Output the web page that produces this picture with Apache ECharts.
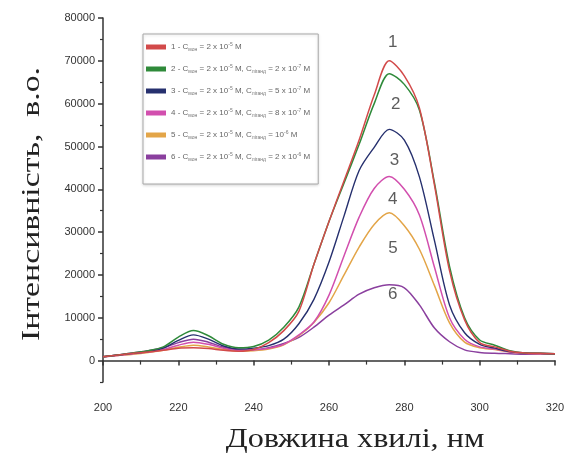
<!DOCTYPE html>
<html>
<head>
<meta charset="utf-8">
<script src="https://cdn.jsdelivr.net/npm/echarts@6/dist/echarts.min.js"></script>
<style>html,body{margin:0;padding:0;background:#fff}#c{width:568px;height:467px}</style>
</head>
<body>
<div id="c"></div>
<script>
const wavelengths = [200,204,208,212,216,220,224,228,232,236,240,244,248,252,256,260,264,268,272,276,280,284,288,292,296,300,304,308,312,316,320];
const curve1 = [900,1300,1700,2000,2400,2900,3000,2800,2400,2200,2600,4200,7000,11500,22500,32500,42000,51500,62000,70000,66500,59000,41000,21000,9500,4200,3200,2200,1800,1700,1600];
const curve2 = [900,1300,1800,2300,3200,5500,7000,5800,3800,3000,3300,4800,7800,12500,22500,32500,41500,50500,60000,67000,64500,58500,41500,22000,10000,4800,3600,2300,1800,1700,1600];
const curve3 = [900,1300,1700,2100,2900,4700,6000,5000,3400,2700,2900,3500,5000,8600,14300,23000,33800,44400,49800,54000,51500,42900,28000,13000,6500,3800,2900,2100,1800,1700,1600];
const curve4 = [900,1200,1600,2000,2600,3600,4300,3800,2900,2400,2500,2900,3800,6000,9000,15300,24500,33500,40200,43000,40000,34000,21800,10000,5000,3200,2700,2000,1700,1600,1600];
const curve5 = [900,1200,1500,1900,2400,3100,3600,3200,2600,2200,2300,2700,3700,5800,8900,13500,20000,26500,31800,34500,31500,26000,17500,8800,4300,3000,2600,2000,1700,1600,1600];
const curve6 = [900,1300,1800,2300,3000,4200,5000,4300,3100,2500,2500,3000,4000,5400,7800,10600,13000,15500,17000,17700,17000,13000,7600,4400,2500,1900,1700,1600,1500,1500,1500];
const seriesNames = ['1','2','3','4','5','6'];
const seriesColors = ['#d24a4a','#2f8a3a','#26306e','#d24fae','#e3a548','#8a3f9e'];
const legendTexts = [
  '{n|1 - C}{s|мон}{n| = 2 x 10}{p|-5}{n| M}',
  '{n|2 - C}{s|мон}{n| = 2 x 10}{p|-5}{n| M, C}{s|ліганд}{n| = 2 x 10}{p|-7}{n| M}',
  '{n|3 - C}{s|мон}{n| = 2 x 10}{p|-5}{n| M, C}{s|ліганд}{n| = 5 x 10}{p|-7}{n| M}',
  '{n|4 - C}{s|мон}{n| = 2 x 10}{p|-5}{n| M, C}{s|ліганд}{n| = 8 x 10}{p|-7}{n| M}',
  '{n|5 - C}{s|мон}{n| = 2 x 10}{p|-5}{n| M, C}{s|ліганд}{n| = 10}{p|-6}{n| M}',
  '{n|6 - C}{s|мон}{n| = 2 x 10}{p|-5}{n| M, C}{s|ліганд}{n| = 2 x 10}{p|-6}{n| M}'
];
const peakLabelX = [276.9,277.7,277.4,276.9,277.0,276.9];
const peakLabelY = [74400,59900,46800,37700,26200,15400];
const yTickValues = [0,10000,20000,30000,40000,50000,60000,70000,80000];
const yMinorTickValues = [-5000,5000,15000,25000,35000,45000,55000,65000,75000];
const xTitle = 'Довжина хвилі, нм';
const yTitle = 'Інтенсивність,  в.о.';

const curves = [curve1,curve2,curve3,curve4,curve5,curve6];
const chart = echarts.init(document.getElementById('c'), null, {renderer:'canvas'});
const lineSeries = curves.map((c,i)=>({
  name: seriesNames[i],
  type: 'line',
  data: wavelengths.map((w,j)=>[w,c[j]]),
  showSymbol: false,
  smooth: 0.3,
  z: 10 - i,
  lineStyle: {color: seriesColors[i], width: i===2 ? 1.4 : 1.5},
  itemStyle: {color: seriesColors[i]}
}));
const legendMap = {};
seriesNames.forEach((n,i)=>legendMap[n]=legendTexts[i]);

const option = {
  animation: false,
  backgroundColor: '#fff',
  grid: {left: 103, right: 13, top: 18, bottom: 85},
  legend: {
    left: 143, top: 34,
    orient: 'vertical',
    data: seriesNames.map((n,i)=>({name:n, itemStyle:{color:seriesColors[i]}})),
    icon: 'rect',
    itemWidth: 20, itemHeight: 5,
    itemGap: 12,
    padding: [8, 8, 22, 3],
    borderColor: '#a8a8a8', borderWidth: 1,
    backgroundColor: '#fff',
    shadowColor: 'rgba(0,0,0,0.15)', shadowBlur: 3, shadowOffsetY: 1,
    formatter: n => legendMap[n],
    textStyle: {
      color: '#666',
      rich: {
        n: {fontSize: 8, fontFamily: 'Liberation Sans Narrow, Arial', color: '#666', lineHeight: 10},
        s: {fontSize: 5, fontFamily: 'Liberation Sans Narrow, Arial', color: '#777', verticalAlign: 'bottom', lineHeight: 10},
        p: {fontSize: 5, fontFamily: 'Liberation Sans Narrow, Arial', color: '#777', verticalAlign: 'top', lineHeight: 10}
      }
    }
  },
  graphic: [
    {type: 'text', x: 355, y: 440, scaleX: 1.15, silent: true,
     style: {text: xTitle, fill: '#222', font: '28px "Liberation Serif", "Times New Roman", serif', textAlign: 'center', textVerticalAlign: 'middle'}},
    {type: 'text', x: 32, y: 204, rotation: Math.PI/2, scaleX: 1.3, silent: true,
     style: {text: yTitle, fill: '#222', font: '26px "Liberation Serif", "Times New Roman", serif', textAlign: 'center', textVerticalAlign: 'middle'}}
  ],
  xAxis: {
    type: 'value', min: 200, max: 320, interval: 20,
    offset: 6,
    axisLine: {show: true, lineStyle: {color: '#333', width: 1.5}},
    axisTick: {show: true, length: 5, lineStyle: {color: '#333', width: 1.5}},
    minorTick: {show: true, splitNumber: 2, length: 4, lineStyle: {color: '#333', width: 1.2}},
    splitLine: {show: false},
    axisLabel: {color: '#333', fontSize: 11, fontFamily: 'Liberation Sans Narrow, Arial', margin: 14}
  },
  yAxis: [{
    type: 'value', min: -5000, max: 80000,
    axisLine: {show: true, lineStyle: {color: '#333', width: 1.5}},
    axisTick: {show: true, length: 5, customValues: yTickValues, lineStyle: {color: '#333', width: 1.5}},
    splitLine: {show: false},
    axisLabel: {color: '#333', fontSize: 11, fontFamily: 'Liberation Sans Narrow, Arial', margin: 8, customValues: yTickValues, formatter: v => String(v)}
  },{
    type: 'value', min: -5000, max: 80000, position: 'left',
    axisLine: {show: false},
    axisTick: {show: true, length: 3, customValues: yMinorTickValues, lineStyle: {color: '#333', width: 1.2}},
    axisLabel: {show: false},
    splitLine: {show: false}
  }],
  series: lineSeries.concat([{
    name: 'labels',
    type: 'scatter',
    data: peakLabelX.map((x,i)=>({value:[x, peakLabelY[i]], label:{formatter: seriesNames[i]}})),
    symbolSize: 1,
    itemStyle: {color: 'rgba(0,0,0,0)'},
    z: 20,
    label: {show: true, position: 'inside', color: '#333', fontSize: 17, fontFamily: 'Liberation Sans, Arial'}
  }])
};
chart.setOption(option);
</script>
</body>
</html>
